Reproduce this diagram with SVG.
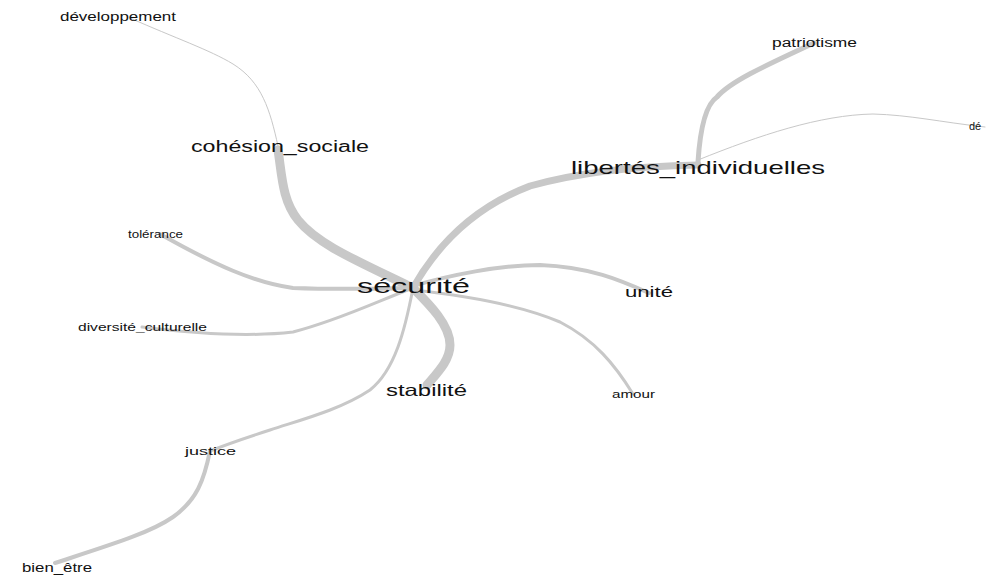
<svg xmlns="http://www.w3.org/2000/svg" width="989" height="580" viewBox="0 0 989 580">
<style>
.e{fill:none;stroke:#c8c8c8;stroke-linecap:round}
text{font-family:"Liberation Sans",Arial,sans-serif;fill:#111;text-anchor:middle}
</style>
<rect width="989" height="580" fill="#fff"/>
<g id="edges">
<path class="e" stroke-width="9" d="M413,288 C360,262 318,245 298,220 C282,200 282,175 278,150"/>
<path class="e" stroke-width="1" d="M278,146 C270,110 262,82 233,64 C210,50 175,38 130,18"/>
<path class="e" stroke-width="7" d="M413,288 C440,240 480,205 530,186 C580,172 640,166 698,165"/>
<path class="e" stroke-width="5" d="M698,162 C700,130 705,105 717,97 C730,82 760,68 814,43"/>
<path class="e" stroke-width="1" d="M698,160 C760,135 820,115 873,114 C910,115 940,122 985,127"/>
<path class="e" stroke-width="4" d="M413,288 C370,289 320,289 293,288 C255,283 215,265 160,234"/>
<path class="e" stroke-width="3" d="M413,288 C380,300 340,320 293,332 C250,337 190,333 142,327"/>
<path class="e" stroke-width="9" d="M413,288 C430,305 450,325 450,345 C450,360 438,372 427,385"/>
<path class="e" stroke-width="3" d="M413,288 C405,330 395,370 370,390 C340,410 300,420 270,430 C245,438 225,445 210,451"/>
<path class="e" stroke-width="4" d="M210,451 C204,480 197,500 173,517 C150,533 110,545 55,563"/>
<path class="e" stroke-width="4" d="M413,286 C450,275 500,265 540,265 C590,267 620,280 649,293"/>
<path class="e" stroke-width="3" d="M413,290 C460,295 520,305 560,322 C595,340 615,365 633,394"/>
</g>
<g id="n-developpement"><text x="118" y="21" font-size="13" textLength="116" lengthAdjust="spacingAndGlyphs">développement</text></g>
<g id="n-cohesion"><text x="280" y="151.5" font-size="16" textLength="178" lengthAdjust="spacingAndGlyphs">cohésion_sociale</text></g>
<g id="n-libertes"><text x="698" y="174" font-size="19" textLength="254" lengthAdjust="spacingAndGlyphs">libertés_individuelles</text></g>
<g id="n-patriotisme"><text x="814.5" y="47" font-size="12" textLength="85" lengthAdjust="spacingAndGlyphs">patriotisme</text></g>
<g id="n-de"><text x="975" y="129.5" font-size="11" text-anchor="start">dé</text></g>
<g id="n-tolerance"><text x="155.5" y="237.5" font-size="10" textLength="55" lengthAdjust="spacingAndGlyphs">tolérance</text></g>
<g id="n-securite"><text x="413.5" y="292.7" font-size="20" textLength="113" lengthAdjust="spacingAndGlyphs">sécurité</text></g>
<g id="n-unite"><text x="649" y="297" font-size="14.5" textLength="48" lengthAdjust="spacingAndGlyphs">unité</text></g>
<g id="n-diversite"><text x="142.5" y="330.5" font-size="11" textLength="129" lengthAdjust="spacingAndGlyphs">diversité_culturelle</text></g>
<g id="n-stabilite"><text x="426.5" y="395.5" font-size="16.5" textLength="81" lengthAdjust="spacingAndGlyphs">stabilité</text></g>
<g id="n-amour"><text x="633.5" y="397.5" font-size="10" textLength="43" lengthAdjust="spacingAndGlyphs">amour</text></g>
<g id="n-justice"><text x="210.5" y="455" font-size="11.5" textLength="51" lengthAdjust="spacingAndGlyphs">justice</text></g>
<g id="n-bienetre"><text x="57" y="572" font-size="12" textLength="70" lengthAdjust="spacingAndGlyphs">bien_être</text></g>
</svg>
